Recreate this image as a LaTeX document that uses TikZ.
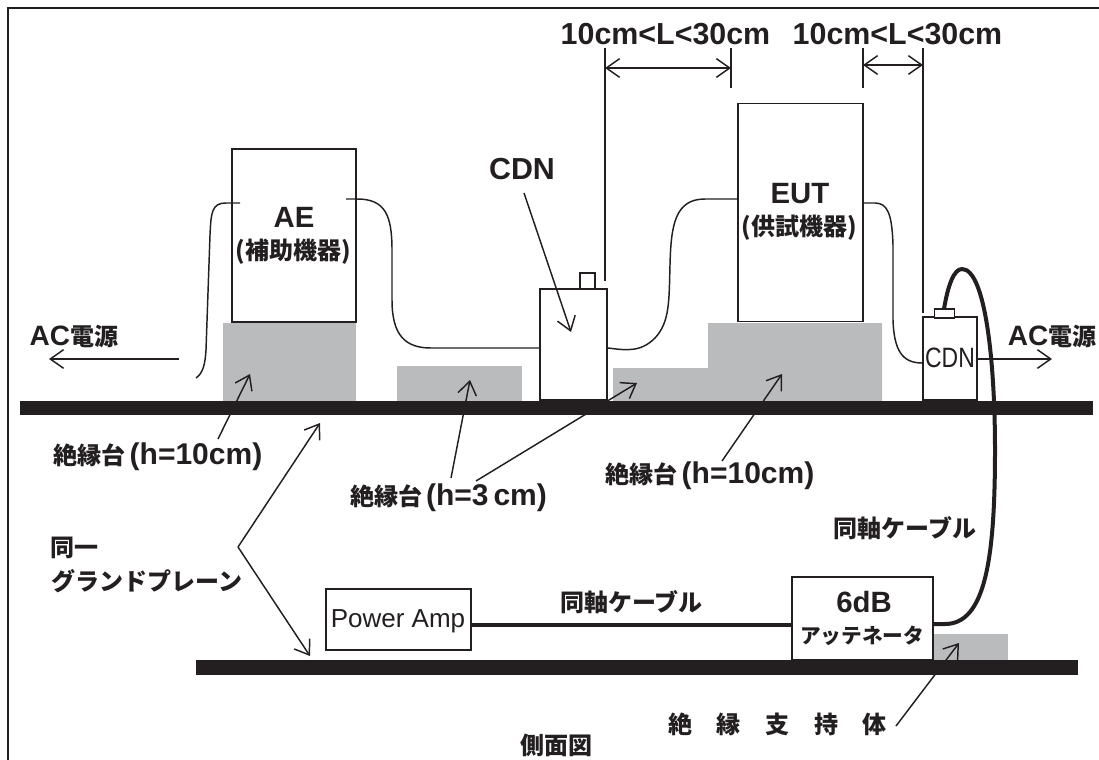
\documentclass[tikz,border=0pt]{standalone}
\usepackage{fontspec}
\usepackage{graphicx}
\setmainfont{Liberation Sans}
\newfontfamily\cjk{Noto Sans CJK JP}
\usetikzlibrary{arrows.meta}
\definecolor{ink}{HTML}{231F20}
\definecolor{stand}{HTML}{BABBBD}
\newcommand{\lat}[2][22.5]{{\normalfont\bfseries\fontsize{#1}{24}\selectfont #2}}

\begin{document}
\begin{tikzpicture}[x=0.75pt, y=-0.75pt, ink, line width=1.1pt,
  >={Straight Barb[length=10pt, width=14pt, line width=1.1pt]},
  devbox/.style 2 args={draw, fill=white, line width=1.4pt, inner sep=0pt,
    minimum width=#1*0.75pt, minimum height=#2*0.75pt},
  plate/.style={fill=ink, draw=none},
  standfill/.style={fill=stand, draw=none},
  coax/.style={line width=3pt},
  lbl/.style={inner sep=0pt, font=\cjk\bfseries\fontsize{18}{20}\selectfont},
  latin/.style={inner sep=0pt, font=\bfseries\fontsize{22}{24}\selectfont},
  dimtext/.style={inner sep=0pt, font=\bfseries\fontsize{22.8}{24}\selectfont},
]
  \useasboundingbox (0,0) rectangle (1099,760);
  % 枠
  \draw[line width=1.5pt] (8,760) -- (8,8) -- (1099,8);

  % 台と床
  \fill[standfill] (223,323) rectangle (356,401);
  \fill[standfill] (397,366) rectangle (522,401);
  \fill[standfill] (613,401) -- (613,368) -- (708,368) -- (708,323) -- (882,323) -- (882,401) -- cycle;
  \fill[standfill] (933,634) rectangle (1008,660);
  \fill[plate] (20,401) rectangle (1093,415);
  \fill[plate] (196,660) rectangle (1078,675);

  % 機器
  \node[devbox={124}{173}] (AE) at (294,235.5) {};
  \node[devbox={125}{218}] (EUT) at (800.5,212.5) {};
  \node[devbox={67}{111}] (CDNa) at (573.5,344.5) {};
  \node[devbox={15}{16}] (CDNatop) at (587.5,281) {};
  \node[devbox={54}{83}] (CDNb) at (950,358.5) {};
  \node[devbox={20}{9}] (CDNbtop) at (944.5,313.5) {};
  \node[devbox={145}{61}] (PA) at (398.5,619.5) {};
  \node[devbox={141}{83}] (ATT) at (862.5,618.5) {};

  % ケーブル
  \coordinate (AEr) at (346,199);
  \coordinate (AEl) at (240,203);
  \coordinate (ACend) at (196,378);
  \draw (AEr) -- (357,199) .. controls (385,199) and (392,215) .. (392,250)
    -- (392,300) .. controls (392,335) and (405,348) .. (431,348) -- (CDNa.west |- 0,348);
  \draw (AEl) -- (226,203) .. controls (212,203) and (211,212) .. (210,235)
    -- (206,350) .. controls (205,365) and (203,373) .. (ACend);
  \draw (CDNa.east |- 0,348) .. controls (625,350) and (640,353) .. (655,338)
    .. controls (670,322) and (669,300) .. (670,265)
    .. controls (671,225) and (675,199) .. (705,199) -- (EUT.west |- 0,199);
  \draw (EUT.east |- 0,203) -- (875,203) .. controls (888,203) and (892,215) .. (893,245)
    -- (893,320) .. controls (894,350) and (902,363) .. (CDNb.west |- 0,363);
  \draw[coax] (944,309) .. controls (948,285) and (954,269) .. (962,269)
    .. controls (985,269) and (995,360) .. (995,450)
    .. controls (995,560) and (985,624) .. (945,624) -- (ATT.east |- 0,624);
  \draw[coax] (PA.east |- 0,625) -- (ATT.west |- 0,625);

  % 寸法線
  \coordinate (La) at (605,48);
  \coordinate (Lb) at (731,48);
  \coordinate (Lc) at (863,48);
  \coordinate (Ld) at (923,48);
  \draw (La) -- (605,281);
  \draw (Lb) -- (731,88);
  \draw (Lc) -- (863,88);
  \draw (Ld) -- (923,313);
  \draw[<->] (605,68) -- (731,68);
  \draw[<->] (863,65) -- (923,65);

  % 引出し線
  \draw[->] (218,439) -- (250,374);
  \draw[->] (451,478) -- (470,380);
  \draw[->] (476,481) -- (637,383);
  \draw[->] (722,461) -- (782,374);
  \draw[->] (524,193) -- (571,332);
  \draw[->] (896,726) -- (959,643);
  \draw[->] (238,547) -- (320,423);
  \draw[->] (238,547) -- (310,656);
  \draw[->] (179,359) -- (49,359);
  \draw[->] (CDNb.east |- 0,359) -- (1052,359);

  % 文字
  \node[dimtext] (Ltexta) at (665.5,34) {10cm<L<30cm};
  \node[dimtext] (Ltextb) at (897.5,34) {10cm<L<30cm};
  \node[latin] (AEtext) at (294,217) {AE};
  \node[lbl] (AEsub) at (293,252) {(補助機器)};
  \node[latin] (EUTtext) at (800,194) {EUT};
  \node[lbl] (EUTsub) at (799,228) {(供試機器)};
  \node[dimtext] (CDNtop) at (522,169) {CDN};
  \node[inner sep=0pt, font=\fontsize{21}{23}\selectfont] (CDNin) at (950,358) {\scalebox{0.82}[1]{CDN}};
  \node[lbl, anchor=west] (ACl) at (29,336) {\lat[21]{AC}電源};
  \node[lbl, anchor=east] (ACr) at (1097,336) {\lat[21]{AC}電源};
  \node[lbl] (Zaa) at (158,457) {絶縁台\,\lat{(h=10cm)}};
  \node[lbl] (Zab) at (448.5,498) {絶縁台\,\lat{(h=3\,cm)}};
  \node[lbl] (Zac) at (710,476) {絶縁台\,\lat{(h=10cm)}};
  \node[lbl, anchor=west] (GPa) at (50,548) {同一};
  \node[lbl, anchor=west] (GPb) at (51,581) {グランドプレーン};
  \node[lbl] (Coaxa) at (631.5,602) {同軸ケーブル};
  \node[lbl] (Coaxb) at (905,528) {同軸ケーブル};
  \node[inner sep=0pt, font=\fontsize{19.5}{21}\selectfont] (PAtext) at (398,621) {Power Amp};
  \node[latin] (ATTa) at (864,602) {6dB};
  \node[lbl, font=\cjk\bfseries\fontsize{15.5}{17}\selectfont] (ATTb) at (862,636) {アッテネータ};
  \node[lbl] (Supp) at (777.5,724) {絶\hspace{18.5pt}縁\hspace{18.5pt}支\hspace{18.5pt}持\hspace{18.5pt}体};
  \node[lbl] (Side) at (556,745) {側面図};
\end{tikzpicture}
\end{document}
